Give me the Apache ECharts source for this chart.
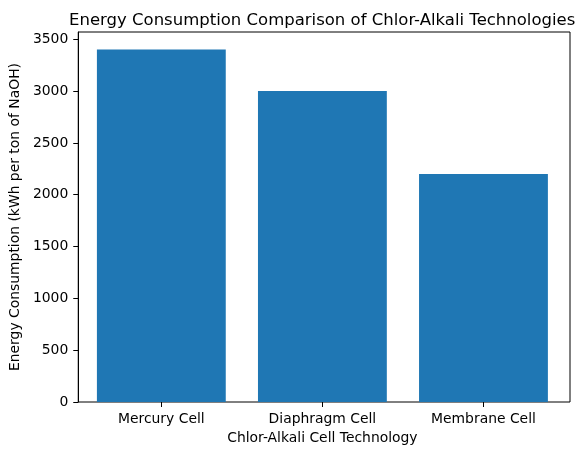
<!DOCTYPE html>
<html>
<head>
<meta charset="utf-8">
<script src="https://cdn.jsdelivr.net/npm/echarts@6/dist/echarts.min.js"></script>
<style>
html,body{margin:0;padding:0;background:#fff;}
#c{width:587px;height:455px;}
</style>
</head>
<body>
<div id="c"></div>
<script>
var categories = ['Mercury Cell', 'Diaphragm Cell', 'Membrane Cell'];
var consumption = [3400, 3000, 2200];
var yTicks = [0, 500, 1000, 1500, 2000, 2500, 3000, 3500];
var yMax = 3570;

var font = 'DejaVu Sans';
var chart = echarts.init(document.getElementById('c'), null, {renderer: 'canvas'});
chart.setOption({
  animation: false,
  backgroundColor: '#fff',
  title: {
    text: 'Energy Consumption Comparison of Chlor-Alkali Technologies',
    left: 64, top: 7,
    textStyle: {fontFamily: font, fontSize: 16.5, fontWeight: 'normal', color: '#000'}
  },
  grid: [
    {left: 74, right: 17, top: 32, bottom: 53, show: true, borderColor: '#000', borderWidth: 1, backgroundColor: 'transparent'},
    {left: 80.8, right: 23, top: 32, bottom: 53}
  ],
  xAxis: [
    {type: 'value', gridIndex: 0, min: 0, max: 1, show: false},
    {
      type: 'category', gridIndex: 1, data: categories,
      axisLine: {show: false},
      axisTick: {show: true, alignWithLabel: true, length: 5, lineStyle: {color: '#000', width: 1}},
      axisLabel: {margin: 10, fontFamily: font, fontSize: 13.9, color: '#000'},
      name: 'Chlor-Alkali Cell Technology', nameLocation: 'middle', nameGap: 29,
      nameTextStyle: {fontFamily: font, fontSize: 13.9, color: '#000'}
    }
  ],
  yAxis: [
    {
      type: 'value', gridIndex: 0, min: 0, max: yMax,
      splitLine: {show: false},
      axisLine: {show: true, lineStyle: {color: '#000', width: 1}},
      axisTick: {show: true, length: 5, customValues: yTicks, lineStyle: {color: '#000', width: 1}},
      axisLabel: {margin: 10, customValues: yTicks, fontFamily: font, fontSize: 13.9, color: '#000',
        formatter: function (v) { return String(v); }},
      name: 'Energy Consumption (kWh per ton of NaOH)', nameLocation: 'middle', nameGap: 46,
      nameTextStyle: {fontFamily: font, fontSize: 13.9, color: '#000'}
    },
    {type: 'value', gridIndex: 1, min: 0, max: yMax, show: false}
  ],
  series: [{
    type: 'bar', xAxisIndex: 1, yAxisIndex: 1,
    data: consumption, barWidth: '80%',
    itemStyle: {color: '#1f77b4'}
  }]
});
</script>
</body>
</html>
